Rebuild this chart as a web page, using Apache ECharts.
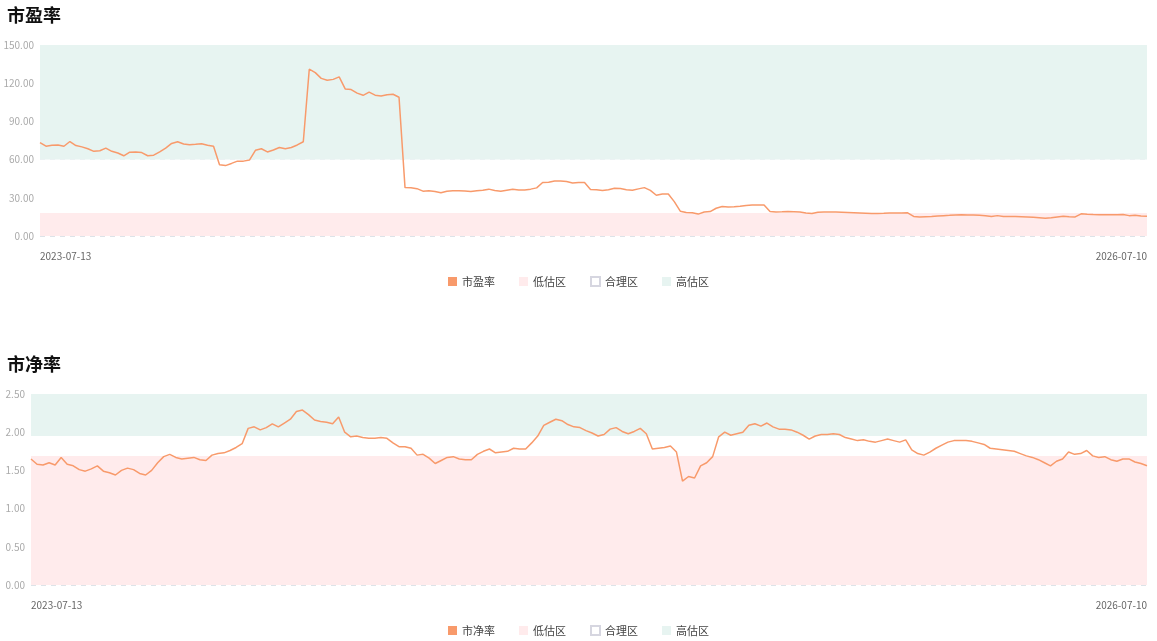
<!DOCTYPE html>
<html>
<head>
<meta charset="utf-8">
<script src="https://cdn.jsdelivr.net/npm/echarts@6/dist/echarts.min.js"></script>
<style>
    html, body { margin: 0; padding: 0; background: #fff; }
    #pe { width: 1157px; height: 349px; }
    #pb { width: 1157px; height: 292px; }
</style>
</head>
<body>
<div id="pe"></div>
<div id="pb"></div>
<script>
var startDate = '2023-07-13';
var endDate = '2026-07-10';

// 市盈率
var peValues = [
    73.4, 70.5, 71.3, 71.5, 70.5, 74.2, 71, 70, 68.5, 66.5,
    67, 69, 66.5, 65.2, 63, 65.8, 66, 65.5, 63, 63.5,
    66, 69, 72.7, 74, 72.3, 71.6, 72, 72.5, 71.2, 70.5,
    56, 55.3, 57, 58.8, 58.8, 59.6, 67.3, 68.5, 66, 67.5,
    69.5, 68.5, 69.5, 71.5, 74, 131, 128.3, 123.8, 122.3, 123,
    125, 115.5, 115, 112.2, 110.5, 113, 110.6, 110, 111, 111.3,
    109, 38, 37.8, 37.2, 35.2, 35.5, 35, 34, 35.2, 35.5,
    35.5, 35.3, 34.9, 35.6, 36, 36.8, 35.8, 35.2, 36, 36.8,
    36.2, 36.2, 36.8, 37.8, 42, 42.2, 43.2, 43.1, 42.8, 41.7,
    42, 42, 36.6, 36.3, 35.8, 36.3, 37.5, 37.3, 36.3, 36,
    37, 38, 35.8, 32, 33, 33, 27, 19.5, 18.5, 18.3,
    17.2, 18.8, 19.2, 21.8, 23.2, 22.8, 23, 23.3, 24, 24.3,
    24.3, 24.4, 19.2, 18.9, 19, 19.2, 19.1, 18.8, 18, 17.6,
    18.7, 18.8, 18.8, 18.8, 18.6, 18.4, 18.2, 18, 17.8, 17.6,
    17.7, 17.8, 18, 18, 18.1, 18.2, 15.4, 15, 15.2, 15.4,
    15.7, 16, 16.2, 16.5, 16.6, 16.5, 16.4, 16.2, 15.9, 15.4,
    16, 15.3, 15.4, 15.4, 15.2, 15, 14.8, 14.4, 14, 14.3,
    15, 15.6, 15.2, 15, 17.4, 17, 16.8, 16.7, 16.6, 16.6,
    16.7, 16.8, 16, 16.2, 15.8, 15.6
];
var peZones = [18, 60];
var peAxis = {min: 0, max: 150, interval: 30};

// 市净率
var pbValues = [
    1.65, 1.58, 1.57, 1.60, 1.57, 1.67, 1.58, 1.56, 1.51, 1.49,
    1.52, 1.56, 1.49, 1.47, 1.44, 1.50, 1.53, 1.51, 1.46, 1.44,
    1.50, 1.60, 1.68, 1.71, 1.67, 1.65, 1.66, 1.67, 1.64, 1.63,
    1.70, 1.72, 1.73, 1.76, 1.80, 1.85, 2.05, 2.07, 2.03, 2.06,
    2.11, 2.07, 2.12, 2.17, 2.27, 2.29, 2.23, 2.16, 2.14, 2.13,
    2.11, 2.20, 2.00, 1.94, 1.95, 1.93, 1.92, 1.92, 1.93, 1.92,
    1.86, 1.81, 1.81, 1.79, 1.70, 1.71, 1.66, 1.59, 1.63, 1.67,
    1.68, 1.65, 1.64, 1.64, 1.71, 1.75, 1.78, 1.73, 1.74, 1.75,
    1.79, 1.78, 1.78, 1.86, 1.95, 2.09, 2.13, 2.17, 2.15, 2.10,
    2.07, 2.06, 2.02, 1.99, 1.95, 1.97, 2.04, 2.06, 2.01, 1.98,
    2.01, 2.05, 1.98, 1.78, 1.79, 1.80, 1.82, 1.74, 1.36, 1.42,
    1.40, 1.56, 1.60, 1.68, 1.94, 2.00, 1.96, 1.98, 2.00, 2.09,
    2.11, 2.08, 2.12, 2.07, 2.04, 2.04, 2.03, 2.00, 1.96, 1.91,
    1.95, 1.97, 1.97, 1.98, 1.97, 1.93, 1.91, 1.89, 1.90, 1.88,
    1.87, 1.89, 1.91, 1.89, 1.87, 1.90, 1.77, 1.72, 1.70, 1.74,
    1.79, 1.83, 1.87, 1.89, 1.89, 1.89, 1.88, 1.86, 1.84, 1.79,
    1.78, 1.77, 1.76, 1.75, 1.72, 1.69, 1.67, 1.64, 1.60, 1.56,
    1.62, 1.65, 1.74, 1.71, 1.72, 1.76, 1.69, 1.67, 1.68, 1.64,
    1.62, 1.65, 1.65, 1.61, 1.59, 1.56
];
var pbZones = [1.69, 1.95];
var pbAxis = {min: 0, max: 2.5, interval: 0.5};

var zoneNames = ['低估区', '合理区', '高估区'];
var lineColor = '#f89a6b';

//生成日期类目
function buildDates(start, end, n) {
    var s = new Date(start + 'T00:00:00Z').getTime();
    var e = new Date(end + 'T00:00:00Z').getTime();
    var days = Math.round((e - s) / 86400000);
    var list = [];
    for (var i = 0; i < n; i++) {
        var d = new Date(s + Math.round(i * days / (n - 1)) * 86400000);
        list.push(d.toISOString().slice(0, 10));
    }
    return list;
}

function zoneSeries(name, from, to, color, border) {
    return {
        name: name,
        type: 'line',
        data: [],
        silent: true,
        itemStyle: {color: color, borderColor: border, borderWidth: border ? 1 : 0},
        lineStyle: {width: 0},
        markArea: {
            silent: true,
            itemStyle: {color: color},
            data: [[{yAxis: from}, {yAxis: to}]]
        }
    };
}

function makeOption(title, name, values, axis, zones, gridLeft) {
    var dates = buildDates(startDate, endDate, values.length);
    var last = dates.length - 1;
    return {
        animation: false,
        textStyle: {fontFamily: '"Microsoft YaHei", "Noto Sans CJK SC", sans-serif'},
        title: {
            text: title,
            left: 2,
            top: 1,
            textStyle: {color: '#111', fontSize: 18, fontWeight: 'bold'}
        },
        legend: {
            top: 271,
            left: 'center',
            icon: 'rect',
            itemWidth: 9,
            itemHeight: 9,
            itemGap: 24,
            textStyle: {color: '#444', fontSize: 11},
            data: [name].concat(zoneNames)
        },
        grid: {left: gridLeft, right: 10, top: 45, height: 191},
        xAxis: {
            type: 'category',
            boundaryGap: false,
            data: dates,
            axisLine: {show: false},
            axisTick: {show: false},
            axisLabel: {
                color: '#666',
                fontSize: 10,
                margin: 15,
                interval: function (i) { return i === 0 || i === last; },
                alignMinLabel: 'left',
                alignMaxLabel: 'right'
            }
        },
        yAxis: {
            type: 'value',
            min: axis.min,
            max: axis.max,
            interval: axis.interval,
            axisLine: {show: false},
            axisTick: {show: false},
            axisLabel: {
                color: '#aaa',
                fontSize: 10,
                margin: 6,
                formatter: function (v) { return v.toFixed(2); }
            },
            splitLine: {lineStyle: {color: '#dde3e8', type: [5, 5]}}
        },
        series: [
            {
                name: name,
                type: 'line',
                data: values,
                showSymbol: false,
                z: 5,
                itemStyle: {color: lineColor},
                lineStyle: {color: lineColor, width: 1.5}
            },
            zoneSeries(zoneNames[0], axis.min, zones[0], '#ffebec'),
            zoneSeries(zoneNames[1], zones[0], zones[1], '#ffffff', '#d6d6e0'),
            zoneSeries(zoneNames[2], zones[1], axis.max, '#e7f4f1')
        ]
    };
}

var peChart = echarts.init(document.getElementById('pe'));
peChart.setOption(makeOption('市盈率', '市盈率', peValues, peAxis, peZones, 40));

var pbChart = echarts.init(document.getElementById('pb'));
pbChart.setOption(makeOption('市净率', '市净率', pbValues, pbAxis, pbZones, 31));
</script>
</body>
</html>
